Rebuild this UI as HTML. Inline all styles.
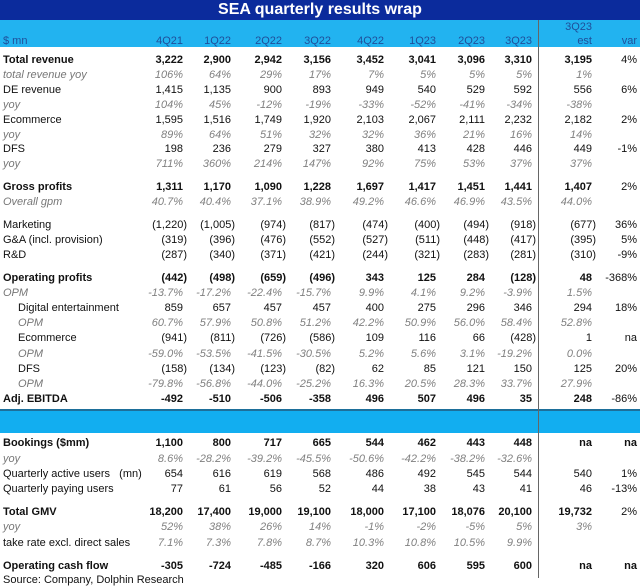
<!DOCTYPE html>
<html><head><meta charset="utf-8"><style>
body{margin:0;width:640px;height:588px;background:#fff;position:relative;overflow:hidden;font-family:"Liberation Sans",sans-serif;font-size:11px;color:#111}
.title{position:absolute;left:0;top:0;width:640px;height:20px;background:#0b2b9c;color:#fff;font-weight:bold;font-size:16px;text-align:center;line-height:20px}
.hdr{position:absolute;left:0;top:20px;width:640px;height:27px;background:#22b3f0;color:#1f4f9a}
.bar{position:absolute;left:0;top:409px;width:640px;height:22px;background:#12aef0;border-top:2px solid #1d6f9a}
.vl{position:absolute;left:538px;top:20px;width:1px;height:558px;background:#666}
.r{position:absolute;left:0;width:640px;height:14px;line-height:14px;white-space:nowrap}
.r span{position:absolute;top:0}
.l{left:3px}.in{left:18px}
.c1{right:457px}.c2{right:409px}.c3{right:358px}.c4{right:309px}.c5{right:256px}.c6{right:204px}.c7{right:155px}.c8{right:108px}.c9{right:48px}.c10{right:3px}
.p{margin-right:-4px}
.b{font-weight:bold}
.i{font-style:italic;color:#808080}
.i .l,.i .in{color:#777}
.src{position:absolute;left:3px;top:574px;font-size:11px}
</style></head><body>
<div class="title">SEA quarterly results wrap</div>
<div class="hdr"></div>
<div class="bar"></div>
<div class="vl"></div>
<div class="r" style="top:20px;color:#1f4f9a"><span class="c9">3Q23</span></div>
<div class="r" style="top:34px;color:#1f4f9a"><span class="l">$ mn</span><span class="c1">4Q21</span><span class="c2">1Q22</span><span class="c3">2Q22</span><span class="c4">3Q22</span><span class="c5">4Q22</span><span class="c6">1Q23</span><span class="c7">2Q23</span><span class="c8">3Q23</span><span class="c9">est</span><span class="c10">var</span></div>

<div class="r b" style="top:53px"><span class="l">Total revenue</span><span class="c1">3,222</span><span class="c2">2,900</span><span class="c3">2,942</span><span class="c4">3,156</span><span class="c5">3,452</span><span class="c6">3,041</span><span class="c7">3,096</span><span class="c8">3,310</span><span class="c9">3,195</span><span class="c10" style="font-weight:normal">4%</span></div>
<div class="r i" style="top:68px"><span class="l">total revenue yoy</span><span class="c1">106%</span><span class="c2">64%</span><span class="c3">29%</span><span class="c4">17%</span><span class="c5">7%</span><span class="c6">5%</span><span class="c7">5%</span><span class="c8">5%</span><span class="c9">1%</span></div>
<div class="r" style="top:83px"><span class="l">DE revenue</span><span class="c1">1,415</span><span class="c2">1,135</span><span class="c3">900</span><span class="c4">893</span><span class="c5">949</span><span class="c6">540</span><span class="c7">529</span><span class="c8">592</span><span class="c9">556</span><span class="c10">6%</span></div>
<div class="r i" style="top:98px"><span class="l">yoy</span><span class="c1">104%</span><span class="c2">45%</span><span class="c3">-12%</span><span class="c4">-19%</span><span class="c5">-33%</span><span class="c6">-52%</span><span class="c7">-41%</span><span class="c8">-34%</span><span class="c9">-38%</span></div>
<div class="r" style="top:113px"><span class="l">Ecommerce</span><span class="c1">1,595</span><span class="c2">1,516</span><span class="c3">1,749</span><span class="c4">1,920</span><span class="c5">2,103</span><span class="c6">2,067</span><span class="c7">2,111</span><span class="c8">2,232</span><span class="c9">2,182</span><span class="c10">2%</span></div>
<div class="r i" style="top:128px"><span class="l">yoy</span><span class="c1">89%</span><span class="c2">64%</span><span class="c3">51%</span><span class="c4">32%</span><span class="c5">32%</span><span class="c6">36%</span><span class="c7">21%</span><span class="c8">16%</span><span class="c9">14%</span></div>
<div class="r" style="top:142px"><span class="l">DFS</span><span class="c1">198</span><span class="c2">236</span><span class="c3">279</span><span class="c4">327</span><span class="c5">380</span><span class="c6">413</span><span class="c7">428</span><span class="c8">446</span><span class="c9">449</span><span class="c10">-1%</span></div>
<div class="r i" style="top:157px"><span class="l">yoy</span><span class="c1">711%</span><span class="c2">360%</span><span class="c3">214%</span><span class="c4">147%</span><span class="c5">92%</span><span class="c6">75%</span><span class="c7">53%</span><span class="c8">37%</span><span class="c9">37%</span></div>

<div class="r b" style="top:180px"><span class="l">Gross profits</span><span class="c1">1,311</span><span class="c2">1,170</span><span class="c3">1,090</span><span class="c4">1,228</span><span class="c5">1,697</span><span class="c6">1,417</span><span class="c7">1,451</span><span class="c8">1,441</span><span class="c9">1,407</span><span class="c10" style="font-weight:normal">2%</span></div>
<div class="r i" style="top:195px"><span class="l">Overall gpm</span><span class="c1">40.7%</span><span class="c2">40.4%</span><span class="c3">37.1%</span><span class="c4">38.9%</span><span class="c5">49.2%</span><span class="c6">46.6%</span><span class="c7">46.9%</span><span class="c8">43.5%</span><span class="c9">44.0%</span></div>

<div class="r" style="top:218px"><span class="l">Marketing</span><span class="c1 p">(1,220)</span><span class="c2 p">(1,005)</span><span class="c3 p">(974)</span><span class="c4 p">(817)</span><span class="c5 p">(474)</span><span class="c6 p">(400)</span><span class="c7 p">(494)</span><span class="c8 p">(918)</span><span class="c9 p">(677)</span><span class="c10">36%</span></div>
<div class="r" style="top:233px"><span class="l">G&amp;A (incl. provision)</span><span class="c1 p">(319)</span><span class="c2 p">(396)</span><span class="c3 p">(476)</span><span class="c4 p">(552)</span><span class="c5 p">(527)</span><span class="c6 p">(511)</span><span class="c7 p">(448)</span><span class="c8 p">(417)</span><span class="c9 p">(395)</span><span class="c10">5%</span></div>
<div class="r" style="top:248px"><span class="l">R&amp;D</span><span class="c1 p">(287)</span><span class="c2 p">(340)</span><span class="c3 p">(371)</span><span class="c4 p">(421)</span><span class="c5 p">(244)</span><span class="c6 p">(321)</span><span class="c7 p">(283)</span><span class="c8 p">(281)</span><span class="c9 p">(310)</span><span class="c10">-9%</span></div>

<div class="r b" style="top:271px"><span class="l">Operating profits</span><span class="c1 p">(442)</span><span class="c2 p">(498)</span><span class="c3 p">(659)</span><span class="c4 p">(496)</span><span class="c5">343</span><span class="c6">125</span><span class="c7">284</span><span class="c8 p">(128)</span><span class="c9">48</span><span class="c10" style="font-weight:normal">-368%</span></div>
<div class="r i" style="top:286px"><span class="l">OPM</span><span class="c1">-13.7%</span><span class="c2">-17.2%</span><span class="c3">-22.4%</span><span class="c4">-15.7%</span><span class="c5">9.9%</span><span class="c6">4.1%</span><span class="c7">9.2%</span><span class="c8">-3.9%</span><span class="c9">1.5%</span></div>
<div class="r" style="top:301px"><span class="in">Digital entertainment</span><span class="c1">859</span><span class="c2">657</span><span class="c3">457</span><span class="c4">457</span><span class="c5">400</span><span class="c6">275</span><span class="c7">296</span><span class="c8">346</span><span class="c9">294</span><span class="c10">18%</span></div>
<div class="r i" style="top:316px"><span class="in">OPM</span><span class="c1">60.7%</span><span class="c2">57.9%</span><span class="c3">50.8%</span><span class="c4">51.2%</span><span class="c5">42.2%</span><span class="c6">50.9%</span><span class="c7">56.0%</span><span class="c8">58.4%</span><span class="c9">52.8%</span></div>
<div class="r" style="top:331px"><span class="in">Ecommerce</span><span class="c1 p">(941)</span><span class="c2 p">(811)</span><span class="c3 p">(726)</span><span class="c4 p">(586)</span><span class="c5">109</span><span class="c6">116</span><span class="c7">66</span><span class="c8 p">(428)</span><span class="c9">1</span><span class="c10">na</span></div>
<div class="r i" style="top:347px"><span class="in">OPM</span><span class="c1">-59.0%</span><span class="c2">-53.5%</span><span class="c3">-41.5%</span><span class="c4">-30.5%</span><span class="c5">5.2%</span><span class="c6">5.6%</span><span class="c7">3.1%</span><span class="c8">-19.2%</span><span class="c9">0.0%</span></div>
<div class="r" style="top:362px"><span class="in">DFS</span><span class="c1 p">(158)</span><span class="c2 p">(134)</span><span class="c3 p">(123)</span><span class="c4 p">(82)</span><span class="c5">62</span><span class="c6">85</span><span class="c7">121</span><span class="c8">150</span><span class="c9">125</span><span class="c10">20%</span></div>
<div class="r i" style="top:377px"><span class="in">OPM</span><span class="c1">-79.8%</span><span class="c2">-56.8%</span><span class="c3">-44.0%</span><span class="c4">-25.2%</span><span class="c5">16.3%</span><span class="c6">20.5%</span><span class="c7">28.3%</span><span class="c8">33.7%</span><span class="c9">27.9%</span></div>
<div class="r b" style="top:392px"><span class="l">Adj. EBITDA</span><span class="c1">-492</span><span class="c2">-510</span><span class="c3">-506</span><span class="c4">-358</span><span class="c5">496</span><span class="c6">507</span><span class="c7">496</span><span class="c8">35</span><span class="c9">248</span><span class="c10" style="font-weight:normal">-86%</span></div>

<div class="r b" style="top:436px"><span class="l">Bookings ($mm)</span><span class="c1">1,100</span><span class="c2">800</span><span class="c3">717</span><span class="c4">665</span><span class="c5">544</span><span class="c6">462</span><span class="c7">443</span><span class="c8">448</span><span class="c9">na</span><span class="c10">na</span></div>
<div class="r i" style="top:452px"><span class="l">yoy</span><span class="c1">8.6%</span><span class="c2">-28.2%</span><span class="c3">-39.2%</span><span class="c4">-45.5%</span><span class="c5">-50.6%</span><span class="c6">-42.2%</span><span class="c7">-38.2%</span><span class="c8">-32.6%</span></div>
<div class="r" style="top:467px"><span class="l">Quarterly active users &nbsp;&nbsp;(mn)</span><span class="c1">654</span><span class="c2">616</span><span class="c3">619</span><span class="c4">568</span><span class="c5">486</span><span class="c6">492</span><span class="c7">545</span><span class="c8">544</span><span class="c9">540</span><span class="c10">1%</span></div>
<div class="r" style="top:482px"><span class="l">Quarterly paying users</span><span class="c1">77</span><span class="c2">61</span><span class="c3">56</span><span class="c4">52</span><span class="c5">44</span><span class="c6">38</span><span class="c7">43</span><span class="c8">41</span><span class="c9">46</span><span class="c10">-13%</span></div>

<div class="r b" style="top:505px"><span class="l">Total GMV</span><span class="c1">18,200</span><span class="c2">17,400</span><span class="c3">19,000</span><span class="c4">19,100</span><span class="c5">18,000</span><span class="c6">17,100</span><span class="c7">18,076</span><span class="c8">20,100</span><span class="c9">19,732</span><span class="c10" style="font-weight:normal">2%</span></div>
<div class="r i" style="top:520px"><span class="l">yoy</span><span class="c1">52%</span><span class="c2">38%</span><span class="c3">26%</span><span class="c4">14%</span><span class="c5">-1%</span><span class="c6">-2%</span><span class="c7">-5%</span><span class="c8">5%</span><span class="c9">3%</span></div>
<div class="r i" style="top:536px"><span class="l" style="font-style:normal;color:#111">take rate excl. direct sales</span><span class="c1">7.1%</span><span class="c2">7.3%</span><span class="c3">7.8%</span><span class="c4">8.7%</span><span class="c5">10.3%</span><span class="c6">10.8%</span><span class="c7">10.5%</span><span class="c8">9.9%</span></div>

<div class="r b" style="top:559px"><span class="l">Operating cash flow</span><span class="c1">-305</span><span class="c2">-724</span><span class="c3">-485</span><span class="c4">-166</span><span class="c5">320</span><span class="c6">606</span><span class="c7">595</span><span class="c8">600</span><span class="c9">na</span><span class="c10">na</span></div>
<div class="src">Source: Company, Dolphin Research</div>
</body></html>
